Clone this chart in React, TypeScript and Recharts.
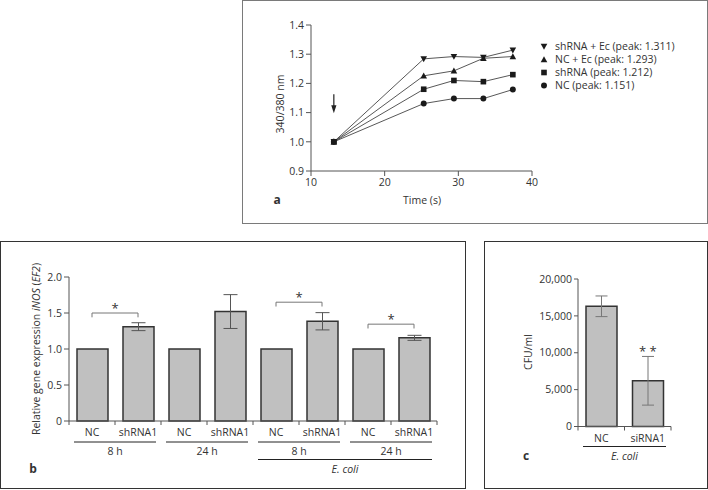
import React from 'react'
import {
  LineChart,
  Line,
  BarChart,
  Bar,
  XAxis,
  YAxis,
  ErrorBar,
  ReferenceLine,
  ReferenceDot,
  Legend,
} from 'recharts'

const FONT = "'Open Sans', 'Noto Sans', sans-serif"
const INK = '#333'
const AXIS = '#555'
const TICK = { fontSize: 10.5, fill: INK, fontFamily: FONT }

// ─── Panel a: 340/380 ratio over time ───
const TIME_S = [13.1, 25.3, 29.4, 33.4, 37.4]
const RATIO_SHRNA_EC = [1.0, 1.284, 1.292, 1.289, 1.314]
const RATIO_NC_EC = [1.0, 1.226, 1.243, 1.286, 1.292]
const RATIO_SHRNA = [1.0, 1.18, 1.21, 1.206, 1.23]
const RATIO_NC = [1.0, 1.131, 1.148, 1.148, 1.179]
const A_LEGEND = ['shRNA + Ec (peak: 1.311)', 'NC + Ec (peak: 1.293)', 'shRNA (peak: 1.212)', 'NC (peak: 1.151)']
const A_X_TICKS = [10, 20, 30, 40]
const A_Y_TICKS = [0.9, 1.0, 1.1, 1.2, 1.3, 1.4]
const ARROW_AT = 13.1
const ARROW_FROM = 1.163
const ARROW_TO = 1.098

// ─── Panel b: iNOS expression ───
const B_LABELS = ['NC', 'shRNA1', 'NC', 'shRNA1', 'NC', 'shRNA1', 'NC', 'shRNA1']
const B_VALUES = [1, 1.31, 1, 1.52, 1, 1.385, 1, 1.155]
const B_ERRORS = [null, 0.055, null, 0.235, null, 0.12, null, 0.035]
const B_TIMES = ['8 h', '24 h', '8 h', '24 h']
const B_SIG_PAIRS = [[0, 1], [4, 5], [6, 7]]
const B_SIG_Y = [1.5, 1.65, 1.345]
const B_Y_TICKS = [0, 0.5, 1, 1.5, 2]

// ─── Panel c: CFU ───
const C_LABELS = ['NC', 'siRNA1']
const C_VALUES = [16300, 6200]
const C_ERRORS = [1400, 3300]
const C_Y_TICKS = [0, 5000, 10000, 15000, 20000]

const aRows = TIME_S.map((t, i) => ({
  t,
  shEc: RATIO_SHRNA_EC[i],
  ncEc: RATIO_NC_EC[i],
  sh: RATIO_SHRNA[i],
  nc: RATIO_NC[i],
}))
const A_SERIES = [
  { key: 'shEc', name: A_LEGEND[0], marker: 'down' },
  { key: 'ncEc', name: A_LEGEND[1], marker: 'up' },
  { key: 'sh', name: A_LEGEND[2], marker: 'square' },
  { key: 'nc', name: A_LEGEND[3], marker: 'circle' },
]
// draw order: square ends up on top at the shared start point
const A_DRAW_ORDER = ['nc', 'ncEc', 'shEc', 'sh']

const bRows = B_LABELS.map((label, i) => ({ id: 'b' + i, label, value: B_VALUES[i], err: B_ERRORS[i] }))
const cRows = C_LABELS.map((label, i) => ({ id: 'c' + i, label, value: C_VALUES[i], err: C_ERRORS[i] }))

// chart geometry
const B_W = 465
const B_H = 246
const B_YW = 69
const B_MR = 28
const B_BAND = (B_W - B_YW - B_MR) / B_LABELS.length
const C_W = 223
const C_H = 246
const C_YW = 94
const C_MR = 36
const C_BAND = (C_W - C_YW - C_MR) / C_LABELS.length

function Marker({ kind, cx, cy, s = 3.3 }: { kind: string; cx: number; cy: number; s?: number }) {
  const fill = '#1a1a1a'
  if (kind === 'down') return <path d={`M${cx - s},${cy - s * 0.8}L${cx + s},${cy - s * 0.8}L${cx},${cy + s}Z`} fill={fill} />
  if (kind === 'up') return <path d={`M${cx - s},${cy + s * 0.8}L${cx + s},${cy + s * 0.8}L${cx},${cy - s}Z`} fill={fill} />
  if (kind === 'square') return <rect x={cx - s * 0.85} y={cy - s * 0.85} width={s * 1.7} height={s * 1.7} fill={fill} />
  return <circle cx={cx} cy={cy} r={s * 0.9} fill={fill} />
}

function ArrowShape(props: any) {
  const { x1, y1, x2, y2 } = props
  return (
    <g>
      <line x1={x1} y1={y1} x2={x2} y2={y2 - 4} stroke="#222" strokeWidth={1.2} />
      <path d={`M${x2 - 2.6},${y2 - 8}L${x2 + 2.6},${y2 - 8}L${x2},${y2}Z`} fill="#222" />
    </g>
  )
}

function PeakLegend() {
  return (
    <div style={{ fontFamily: FONT, fontSize: 10.5, color: INK, lineHeight: '13px' }}>
      {A_SERIES.map(s => (
        <div key={s.key} style={{ display: 'flex', alignItems: 'center', whiteSpace: 'nowrap' }}>
          <svg width={10} height={13}>
            <Marker kind={s.marker} cx={5} cy={6.5} />
          </svg>
          <span style={{ marginLeft: 6 }}>{s.name}</span>
        </div>
      ))}
    </div>
  )
}

function BTick(props: any) {
  const { x, y, index } = props
  const half = B_BAND / 2
  return (
    <g fontFamily={FONT} fontSize={10.5} fill={INK}>
      <line x1={x - half} y1={y} x2={x - half} y2={y + 4} stroke={AXIS} />
      {index === B_LABELS.length - 1 && <line x1={x + half} y1={y} x2={x + half} y2={y + 4} stroke={AXIS} />}
      <text x={x} y={y + 15} textAnchor="middle">{B_LABELS[index]}</text>
      {index % 2 === 0 && (
        <g>
          <line x1={x - half + 5} y1={y + 21} x2={x + B_BAND + half - 5} y2={y + 21} stroke="#222" />
          <text x={x + half} y={y + 34} textAnchor="middle">{B_TIMES[index / 2]}</text>
        </g>
      )}
      {index === 4 && (
        <g>
          <line x1={x - half + 5} y1={y + 38.5} x2={x + 3 * B_BAND + half - 5} y2={y + 38.5} stroke="#222" />
          <text x={x + 1.5 * B_BAND} y={y + 52} textAnchor="middle" fontStyle="italic">E. coli</text>
        </g>
      )}
    </g>
  )
}

function CTick(props: any) {
  const { x, y, index } = props
  const half = C_BAND / 2
  return (
    <g fontFamily={FONT} fontSize={10.5} fill={INK}>
      <line x1={x - half} y1={y} x2={x - half} y2={y + 4} stroke={AXIS} />
      {index === C_LABELS.length - 1 && <line x1={x + half} y1={y} x2={x + half} y2={y + 4} stroke={AXIS} />}
      <text x={x} y={y + 15} textAnchor="middle">{C_LABELS[index]}</text>
      {index === 0 && (
        <g>
          <line x1={x - half + 5} y1={y + 20} x2={x + C_BAND + half - 5} y2={y + 20} stroke="#222" />
          <text x={x + half} y={y + 33.5} textAnchor="middle" fontStyle="italic">E. coli</text>
        </g>
      )}
    </g>
  )
}

function Frame({ left, top, width, height, color }: any) {
  return (
    <div
      style={{
        position: 'absolute',
        left,
        top,
        width,
        height,
        boxSizing: 'border-box',
        border: `1.5px solid ${color}`,
      }}
    />
  )
}

function Label({ x, y, rotate, bold, children }: any) {
  return (
    <div
      style={{
        position: 'absolute',
        left: x,
        top: y,
        transform: `translate(-50%, -50%)${rotate ? ' rotate(-90deg)' : ''}`,
        whiteSpace: 'nowrap',
        fontSize: bold ? 12 : 10.5,
        fontWeight: bold ? 700 : 400,
        lineHeight: 1,
      }}
    >
      {children}
    </div>
  )
}

function PanelA() {
  return (
    <LineChart width={465} height={223} data={aRows} margin={{ top: 25, right: 175, bottom: 0, left: 0 }}>
      <XAxis
        dataKey="t"
        type="number"
        domain={[10, 40]}
        ticks={A_X_TICKS}
        tick={TICK}
        tickSize={5}
        tickMargin={3}
        height={52}
        stroke={AXIS}
      />
      <YAxis
        type="number"
        domain={[0.9, 1.4]}
        ticks={A_Y_TICKS}
        tickFormatter={(v: number) => v.toFixed(1)}
        tick={TICK}
        tickSize={5}
        tickMargin={2}
        width={69}
        stroke={AXIS}
      />
      <ReferenceLine
        segment={[{ x: ARROW_AT, y: ARROW_FROM }, { x: ARROW_AT, y: ARROW_TO }]}
        shape={ArrowShape}
      />
      {A_DRAW_ORDER.map(key => {
        const s = A_SERIES.find(x => x.key === key)!
        return (
          <Line
            key={key}
            dataKey={key}
            name={s.name}
            type="linear"
            stroke="#444"
            strokeWidth={0.9}
            dot={(p: any) => <Marker key={key + p.index} kind={s.marker} cx={p.cx} cy={p.cy} />}
            activeDot={false}
            isAnimationActive={false}
          />
        )
      })}
      <Legend
        layout="vertical"
        align="center"
        verticalAlign="middle"
        content={<PeakLegend />}
        wrapperStyle={{ left: 297, top: 40, width: 170 }}
      />
    </LineChart>
  )
}

function PanelB() {
  const refs = B_SIG_PAIRS.flatMap(([a, b], i) => {
    const y = B_SIG_Y[i]
    const xa = 'b' + a
    const xb = 'b' + b
    return [
      <ReferenceLine
        key={'h' + i}
        segment={[{ x: xa, y }, { x: xb, y }]}
        stroke="#777"
        label={{ value: '*', position: 'top', offset: 0, fontSize: 13, fill: INK, fontFamily: FONT }}
      />,
      <ReferenceLine key={'l' + i} segment={[{ x: xa, y }, { x: xa, y: y - 0.06 }]} stroke="#777" />,
      <ReferenceLine key={'r' + i} segment={[{ x: xb, y }, { x: xb, y: y - 0.06 }]} stroke="#777" />,
    ]
  })
  return (
    <BarChart width={B_W} height={B_H} data={bRows} margin={{ top: 35, right: B_MR, bottom: 0, left: 0 }}>
      <XAxis dataKey="id" tick={<BTick />} tickSize={0} tickMargin={0} interval={0} height={67} stroke={AXIS} />
      <YAxis
        type="number"
        domain={[0, 2]}
        ticks={B_Y_TICKS}
        tickFormatter={(v: number) => (v === 0 ? '0' : v.toFixed(1))}
        tick={TICK}
        tickSize={5}
        tickMargin={2}
        width={B_YW}
        stroke={AXIS}
      />
      <Bar dataKey="value" fill="#c0c0c0" stroke="#333" strokeWidth={1.5} barSize={31} isAnimationActive={false}>
        <ErrorBar dataKey="err" width={7} stroke="#555" strokeWidth={1} />
      </Bar>
      {refs}
    </BarChart>
  )
}

function PanelC() {
  return (
    <BarChart width={C_W} height={C_H} data={cRows} margin={{ top: 37, right: C_MR, bottom: 0, left: 0 }}>
      <XAxis dataKey="id" tick={<CTick />} tickSize={0} tickMargin={0} interval={0} height={61.5} stroke={AXIS} />
      <YAxis
        type="number"
        domain={[0, 20000]}
        ticks={C_Y_TICKS}
        tickFormatter={(v: number) => v.toLocaleString('en-US')}
        tick={TICK}
        tickSize={4}
        tickMargin={2}
        width={C_YW}
        stroke={AXIS}
      />
      <Bar dataKey="value" fill="#c0c0c0" stroke="#333" strokeWidth={1.5} barSize={31} isAnimationActive={false}>
        <ErrorBar dataKey="err" width={6} stroke="#777" strokeWidth={1} />
      </Bar>
      <ReferenceDot
        x="c1"
        y={C_VALUES[1] + C_ERRORS[1]}
        r={0}
        stroke="none"
        label={{ value: '* *', position: 'top', offset: 0, fontSize: 13, fill: INK, fontFamily: FONT }}
      />
    </BarChart>
  )
}

export default function App() {
  return (
    <div
      style={{
        position: 'absolute',
        left: 0,
        top: 0,
        width: 708,
        height: 490,
        background: '#fff',
        fontFamily: FONT,
        color: INK,
      }}
    >
      <Frame left={242} top={0} width={466} height={224} color="#7a7a7a" />
      <Frame left={0} top={241} width={466} height={248} color="#333" />
      <Frame left={484} top={241} width={224} height={248} color="#333" />

      <div style={{ position: 'absolute', left: 242, top: 0 }}>
        <PanelA />
      </div>
      <div style={{ position: 'absolute', left: 0, top: 242 }}>
        <PanelB />
      </div>
      <div style={{ position: 'absolute', left: 484, top: 242 }}>
        <PanelC />
      </div>

      <Label x={280} y={104} rotate>340/380 nm</Label>
      <Label x={422} y={200}>Time (s)</Label>
      <Label x={277} y={200} bold>a</Label>

      <Label x={36} y={349} rotate>
        Relative gene expression <i>iNOS</i> (<i>EF2</i>)
      </Label>
      <Label x={33} y={469} bold>b</Label>

      <Label x={528} y={352} rotate>CFU/ml</Label>
      <Label x={526} y={456} bold>c</Label>
    </div>
  )
}
